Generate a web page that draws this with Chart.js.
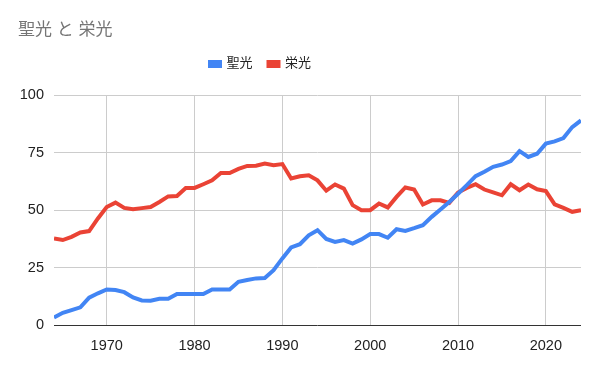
<!DOCTYPE html>
<html>
<head>
<meta charset="utf-8">
<script src="https://cdn.jsdelivr.net/npm/chart.js@4/dist/chart.umd.min.js"></script>
<style>
  html, body { margin: 0; padding: 0; background: #fff; }
  #wrap { width: 600px; height: 371px; }
</style>
</head>
<body>
<div id="wrap"><canvas id="myChart" width="600" height="371"></canvas></div>
<script>
// data
const years = [
  1964, 1965, 1966, 1967, 1968, 1969, 1970, 1971, 1972, 1973,
  1974, 1975, 1976, 1977, 1978, 1979, 1980, 1981, 1982, 1983,
  1984, 1985, 1986, 1987, 1988, 1989, 1990, 1991, 1992, 1993,
  1994, 1995, 1996, 1997, 1998, 1999, 2000, 2001, 2002, 2003,
  2004, 2005, 2006, 2007, 2008, 2009, 2010, 2011, 2012, 2013,
  2014, 2015, 2016, 2017, 2018, 2019, 2020, 2021, 2022, 2023, 2024
];
const seiko = [
  3.3, 5.3, 6.5, 7.7, 11.9, 13.8, 15.5, 15.2, 14.3, 12,
  10.7, 10.6, 11.4, 11.4, 13.5, 13.5, 13.5, 13.5, 15.5, 15.5,
  15.5, 18.8, 19.6, 20.3, 20.5, 23.9, 29, 33.8, 35.2, 39.1,
  41.3, 37.5, 36.2, 37, 35.5, 37.3, 39.6, 39.6, 38, 41.7,
  41, 42.2, 43.5, 47.1, 50.3, 53.6, 57.2, 60.9, 64.8, 66.7,
  68.9, 69.9, 71.4, 75.7, 73.2, 74.6, 79, 80, 81.4, 86.2, 89.1
];
const eiko = [
  37.7, 37, 38.4, 40.3, 40.9, 46.4, 51.4, 53.3, 51, 50.4,
  50.9, 51.4, 53.6, 56, 56.2, 59.7, 59.7, 61.3, 63, 66.2,
  66.2, 68, 69.3, 69.4, 70.3, 69.6, 70.1, 63.8, 64.8, 65.2,
  63, 58.5, 61.2, 59.4, 52.2, 50, 50, 52.9, 51.2, 55.8,
  59.9, 59, 52.5, 54.3, 54.3, 53.2, 57.7, 59.7, 61.3, 59,
  57.8, 56.5, 61.3, 58.7, 61.2, 59.1, 58.3, 52.5, 51, 49.3, 50
];
const seriesNames = ['聖光', '栄光'];
const xTicks = [1970, 1980, 1990, 2000, 2010, 2020];
const yTicks = [0, 25, 50, 75, 100];

const font = "'Liberation Sans', Arial, 'Noto Sans CJK JP', sans-serif";
const toPoints = (vals) => vals.map((v, i) => ({ x: years[i], y: v }));

// a bit more room under the legend, and legend sits left of centre like the original
const legendTweak = {
    id: 'legendTweak',
    beforeInit(chart) {
        const legend = chart.legend;
        const fit = legend.fit;
        legend.fit = function () {
            fit.call(this);
            this.height += 15;
        };
    },
    afterLayout(chart) {
        chart.legend.right -= 78;
    }
};

const ctx = document.getElementById('myChart');
new Chart(ctx, {
    type: 'line',
    data: {
        datasets: [{
            label: seriesNames[0],
            data: toPoints(seiko),
            borderColor: '#4285F4',
            backgroundColor: '#4285F4',
            borderWidth: 4,
            pointRadius: 0,
            tension: 0
        }, {
            label: seriesNames[1],
            data: toPoints(eiko),
            borderColor: '#EA4335',
            backgroundColor: '#EA4335',
            borderWidth: 4,
            pointRadius: 0,
            tension: 0
        }]
    },
    options: {
        responsive: false,
        animation: false,
        layout: { padding: { left: 18, right: 19, top: 0, bottom: 0 } },
        plugins: {
            title: {
                display: true,
                text: '聖光 と 栄光',
                align: 'start',
                color: '#757575',
                font: { family: font, size: 17, weight: 'normal' },
                padding: { top: 20, bottom: 1 }
            },
            legend: {
                display: true,
                labels: {
                    boxWidth: 10,
                    boxHeight: 4,
                    color: '#222',
                    padding: 16,
                    font: { family: font, size: 13 }
                }
            },
            tooltip: { enabled: false }
        },
        scales: {
            x: {
                type: 'linear',
                min: years[0],
                max: years[years.length - 1],
                border: { display: false },
                grid: { color: '#cccccc', drawTicks: false },
                afterBuildTicks: (scale) => { scale.ticks = xTicks.map(v => ({ value: v })); },
                ticks: {
                    maxRotation: 0,
                    color: '#222',
                    padding: 12,
                    font: { family: font, size: 14.5 },
                    callback: (v) => String(v)
                },
                afterFit: (scale) => { scale.height = 46; }
            },
            y: {
                min: yTicks[0],
                max: yTicks[yTicks.length - 1],
                border: { display: false },
                grid: {
                    drawTicks: false,
                    color: (c) => c.tick && c.tick.value === 0 ? '#333333' : '#cccccc'
                },
                afterBuildTicks: (scale) => { scale.ticks = yTicks.map(v => ({ value: v })); },
                ticks: {
                    color: '#222',
                    padding: 10,
                    font: { family: font, size: 14.5 }
                },
                afterFit: (scale) => { scale.width = 36; }
            }
        }
    },
    plugins: [legendTweak]
});
</script>
</body>
</html>
